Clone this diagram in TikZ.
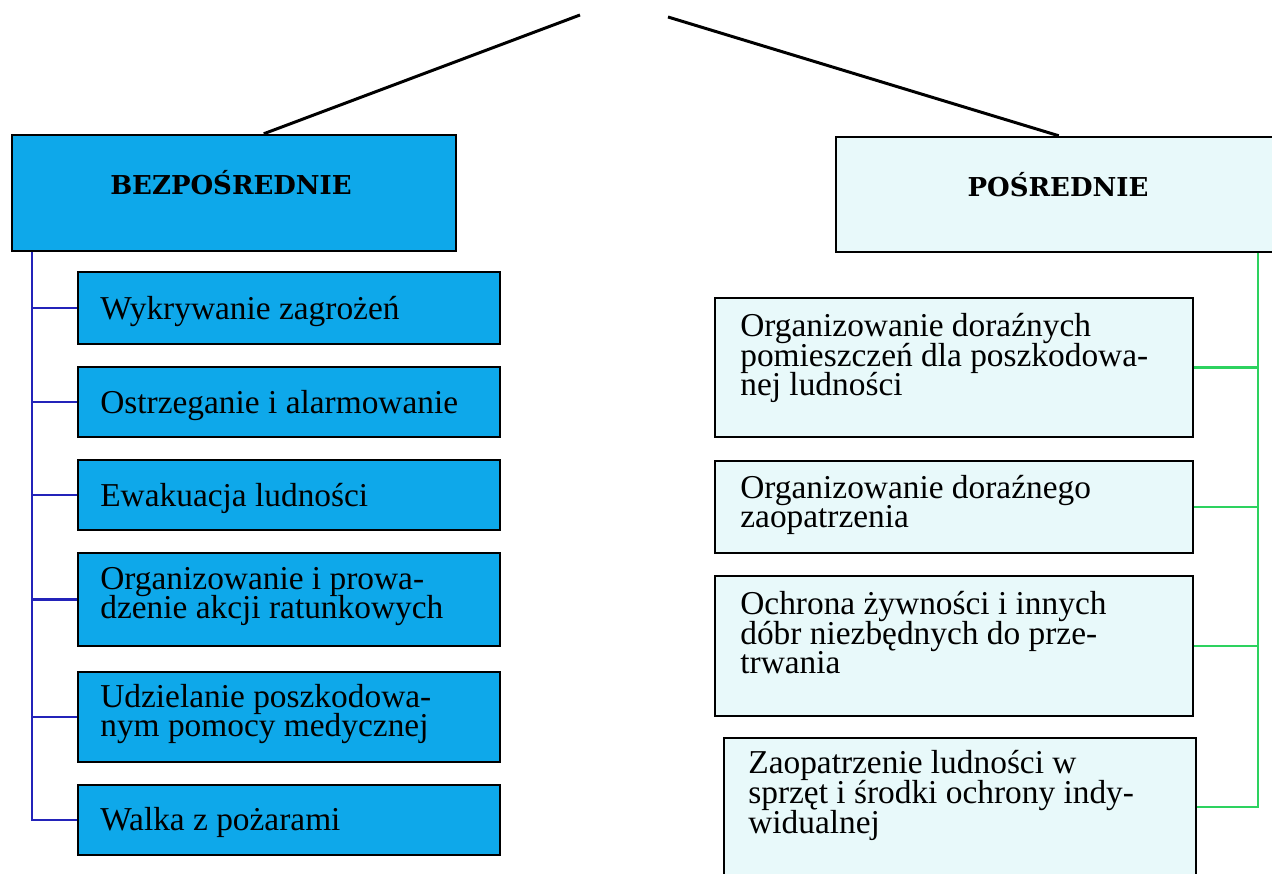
\documentclass[tikz,border=0pt]{standalone}
\usepackage{fontspec}
\setmainfont{Liberation Serif}
\newfontfamily\headfamily{DejaVu Serif}
\usetikzlibrary{calc}
\definecolor{boxblue}{RGB}{14,168,234}
\definecolor{boxcyan}{RGB}{232,249,250}
\definecolor{lineblue}{RGB}{35,35,185}
\definecolor{linegreen}{RGB}{45,210,95}
\newcommand\mybox[6]{\node[#6, minimum width={(#4-#2)*0.02cm}, minimum height={(#5-#3)*0.02cm}] (#1) at ({(#2+#4)/2},{(#3+#5)/2}) {};}
\newcommand\itemfont{\fontsize{19}{17}\selectfont\lineskiplimit-30pt\relax}
\newcommand\headfont{\headfamily\bfseries\fontsize{14.8}{18}\selectfont}
\tikzset{
  leftbox/.style={draw=black, line width=1.4pt, fill=boxblue, inner sep=0pt, rectangle},
  rightbox/.style={draw=black, line width=1.4pt, fill=boxcyan, inner sep=0pt, rectangle},
  itemtext/.style={anchor=base west, align=left, inner sep=0pt, font=\itemfont},
  headtext/.style={anchor=base, inner sep=0pt, font=\headfont},
  blueconn/.style={draw=lineblue, line width=1.2pt},
  greenconn/.style={draw=linegreen, line width=1.2pt},
  topline/.style={draw=black, line width=1.7pt}
}
\begin{document}
\begin{tikzpicture}[x=0.02cm, y=-0.02cm]
\useasboundingbox[fill=white] (0,0) rectangle (1272,874);
% headers
\mybox{hdrL}{12}{135}{456}{251}{leftbox}
\mybox{hdrR}{836}{137}{1290}{252}{rightbox}
\node[headtext] (hL) at (231,195) {BEZPOŚREDNIE};
\node[headtext] (hR) at (1058,197) {POŚREDNIE};
% top lines
\coordinate (topL) at (580,15);
\coordinate (topR) at (668,17);
\draw[topline] (topL) -- ($(hdrL.north west)+(253,0)$);
\draw[topline] (topR) -- ($(hdrR.north west)+(224,0)$);
% left items
\mybox{L1}{78}{272}{500}{344}{leftbox}
\mybox{L2}{78}{367}{500}{437}{leftbox}
\mybox{L3}{78}{460}{500}{530}{leftbox}
\mybox{L4}{78}{553}{500}{646}{leftbox}
\mybox{L5}{78}{672}{500}{762}{leftbox}
\mybox{L6}{78}{785}{500}{855}{leftbox}
% (base anchor = baseline of the last line)
\node[itemtext] (tL1) at (100,320) {Wykrywanie zagrożeń};
\node[itemtext] (tL2) at (100,414) {Ostrzeganie i alarmowanie};
\node[itemtext] (tL3) at (100,507) {Ewakuacja ludności};
\node[itemtext] (tL4) at (100,619) {Organizowanie i prowa-\\dzenie akcji ratunkowych};
\node[itemtext] (tL5) at (100,737) {Udzielanie poszkodowa-\\nym pomocy medycznej};
\node[itemtext] (tL6) at (100,830) {Walka z pożarami};
% right items
\mybox{R1}{715}{298}{1193}{437}{rightbox}
\mybox{R2}{715}{461}{1193}{553}{rightbox}
\mybox{R3}{715}{576}{1193}{716}{rightbox}
\mybox{R4}{724}{738}{1196}{900}{rightbox}
\node[itemtext] (tR1) at (740,396) {Organizowanie doraźnych\\pomieszczeń dla poszkodowa-\\nej ludności};
\node[itemtext] (tR2) at (740,528) {Organizowanie doraźnego\\zaopatrzenia};
\node[itemtext] (tR3) at (740,674) {Ochrona żywności i innych\\dóbr niezbędnych do prze-\\trwania};
\node[itemtext] (tR4) at (748,833) {Zaopatrzenie ludności w\\sprzęt i środki ochrony indy-\\widualnej};
% left connectors
\coordinate (trunkL) at ($(hdrL.south west)+(21,0)$);
\foreach \n in {L1,L2,L3,L4,L5,L6} \draw[blueconn] (trunkL) |- (\n.west);
% right connectors
\coordinate (trunkR) at ($(hdrR.south west)+(423,0)$);
\foreach \n in {R1,R2,R3} \draw[greenconn] (trunkR) |- (\n.east);
\draw[greenconn] (trunkR) |- ($(R4.north east)+(0,70)$);
\end{tikzpicture}
\end{document}
